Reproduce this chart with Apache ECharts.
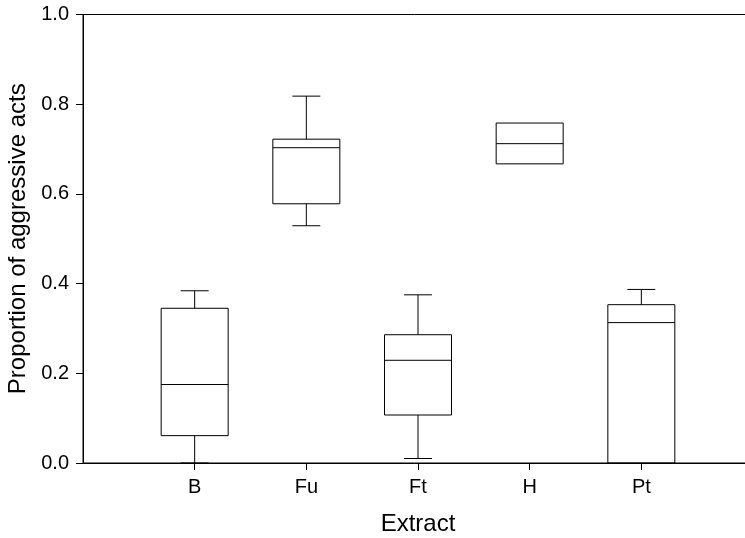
<!DOCTYPE html>
<html>
<head>
<meta charset="utf-8">
<script src="https://cdn.jsdelivr.net/npm/echarts@6/dist/echarts.min.js"></script>
<style>
html,body{margin:0;padding:0;background:#fff;}
#chart{width:745px;height:538px;}
</style>
</head>
<body>
<div id="chart"></div>
<script>
// Categories and their positions on the x axis
var categories = ['B', 'Fu', 'Ft', 'H', 'Pt'];
var positions = [1, 2, 3, 4, 5];
// Box statistics per category
var minVals    = [0.000, 0.529, 0.010, 0.667, 0.000];
var q1Vals     = [0.061, 0.578, 0.107, 0.667, 0.000];
var medianVals = [0.175, 0.703, 0.229, 0.712, 0.313];
var q3Vals     = [0.345, 0.722, 0.286, 0.758, 0.353];
var maxVals    = [0.384, 0.818, 0.375, 0.758, 0.387];
var yTicks = [0, 0.2, 0.4, 0.6, 0.8, 1.0];

var data = categories.map(function (c, i) {
  return [positions[i], minVals[i], q1Vals[i], medianVals[i], q3Vals[i], maxVals[i]];
});

var BOX_W = 0.6, CAP_W = 0.25;
var lineStyle = {stroke: '#000', lineWidth: 1, fill: null};

function renderItem(params, api) {
  var x = api.value(0);
  var vmin = api.value(1), q1 = api.value(2), med = api.value(3), q3 = api.value(4), vmax = api.value(5);
  var pL = api.coord([x - BOX_W / 2, q1]);
  var pR = api.coord([x + BOX_W / 2, q3]);
  var cx = api.coord([x, 0])[0];
  var capL = api.coord([x - CAP_W / 2, 0])[0];
  var capR = api.coord([x + CAP_W / 2, 0])[0];
  var yMin = api.coord([x, vmin])[1];
  var yQ1 = api.coord([x, q1])[1];
  var yMed = api.coord([x, med])[1];
  var yQ3 = api.coord([x, q3])[1];
  var yMax = api.coord([x, vmax])[1];
  var children = [];
  children.push({type: 'rect', shape: {x: pL[0], y: yQ3, width: pR[0] - pL[0], height: yQ1 - yQ3}, style: lineStyle});
  children.push({type: 'line', shape: {x1: pL[0], y1: yMed, x2: pR[0], y2: yMed}, style: lineStyle});
  if (vmax > q3) {
    children.push({type: 'line', shape: {x1: cx, y1: yQ3, x2: cx, y2: yMax}, style: lineStyle});
    children.push({type: 'line', shape: {x1: capL, y1: yMax, x2: capR, y2: yMax}, style: lineStyle});
  }
  if (vmin < q1) {
    children.push({type: 'line', shape: {x1: cx, y1: yQ1, x2: cx, y2: yMin}, style: lineStyle});
    children.push({type: 'line', shape: {x1: capL, y1: yMin, x2: capR, y2: yMin}, style: lineStyle});
  }
  return {type: 'group', children: children};
}

var chart = echarts.init(document.getElementById('chart'), null, {renderer: 'canvas'});
chart.setOption({
  animation: false,
  backgroundColor: '#fff',
  grid: {left: 83, top: 14.5, bottom: 75, right: -8, show: true, borderColor: '#000', borderWidth: 1,
         containLabel: false, outerBoundsMode: 'none'},
  xAxis: {
    type: 'value', min: 0, max: 6, interval: 1,
    name: 'Extract', nameLocation: 'middle', nameGap: 49,
    nameTextStyle: {fontFamily: 'Liberation Sans', fontSize: 24, color: '#000'},
    axisLine: {show: true, lineStyle: {color: '#000', width: 1}},
    axisTick: {show: true, inside: false, length: 7, customValues: positions, lineStyle: {color: '#000'}},
    axisLabel: {
      customValues: positions, margin: 14,
      fontFamily: 'Liberation Sans', fontSize: 20, color: '#000',
      formatter: function (v) { var i = positions.indexOf(v); return i >= 0 ? categories[i] : ''; }
    },
    splitLine: {show: false}
  },
  yAxis: {
    type: 'value', min: 0, max: 1, interval: 0.2,
    name: 'Proportion of aggressive acts', nameLocation: 'middle', nameGap: 52,
    nameTextStyle: {fontFamily: 'Liberation Sans', fontSize: 24, color: '#000'},
    axisLine: {show: true, lineStyle: {color: '#000', width: 1}},
    axisTick: {show: true, inside: false, length: 7, lineStyle: {color: '#000'}},
    axisLabel: {
      margin: 14, fontFamily: 'Liberation Sans', fontSize: 20, color: '#000',
      formatter: function (v) { return v.toFixed(1); }
    },
    splitLine: {show: false}
  },
  series: [{
    type: 'custom',
    renderItem: renderItem,
    data: data,
    clip: false,
    encode: {x: 0, y: [1, 2, 3, 4, 5]}
  }]
});
</script>
</body>
</html>
